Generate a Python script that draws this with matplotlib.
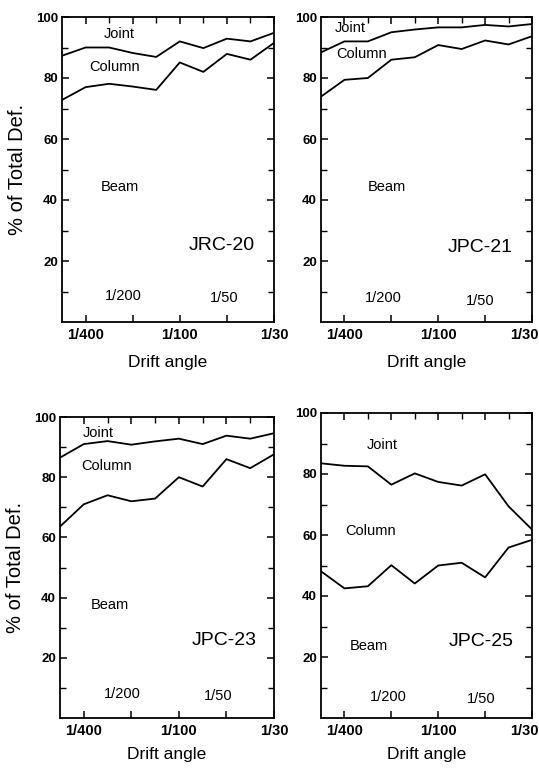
import numpy as np
import matplotlib
matplotlib.use("Agg")
import matplotlib.pyplot as plt
import matplotlib.transforms as mtransforms
from matplotlib.ticker import FixedLocator

plt.rcParams['font.family'] = ['Liberation Sans', 'DejaVu Sans']

# Loading steps (equally spaced drift-angle cycles)
steps = [0, 1, 2, 3, 4, 5, 6, 7, 8, 9]
x_tick_pos = [1, 3, 5, 7, 9]
x_tick_labels = ['1/400', '', '1/100', '', '1/30']
y_ticks = [20, 40, 60, 80, 100]
y_tick_labels = ['20', '40', '60', '80', '100']

specimens = ['JRC-20', 'JPC-21', 'JPC-23', 'JPC-25']

# Upper boundary (beam + column) and lower boundary (beam), % of total deformation
jrc20_upper = [87.3, 90.0, 90.0, 88.2, 86.9, 92.0, 89.8, 92.9, 92.0, 94.8]
jrc20_lower = [72.8, 77.0, 78.1, 77.2, 76.1, 85.1, 82.0, 87.9, 86.0, 91.5]

jpc21_upper = [88.4, 92.0, 92.0, 95.0, 95.9, 96.6, 96.6, 97.4, 96.9, 97.7]
jpc21_lower = [73.9, 79.4, 80.0, 86.0, 86.8, 90.8, 89.5, 92.3, 91.0, 93.7]

jpc23_upper = [86.5, 91.0, 92.0, 90.8, 91.9, 92.8, 91.0, 93.8, 92.8, 94.6]
jpc23_lower = [63.6, 71.0, 74.0, 72.0, 72.9, 80.0, 76.9, 86.0, 83.0, 87.6]

jpc25_upper = [83.5, 82.7, 82.5, 76.5, 80.2, 77.4, 76.2, 79.9, 69.4, 61.8]
jpc25_lower = [48.1, 42.5, 43.2, 50.1, 44.1, 50.0, 50.9, 46.1, 55.9, 58.4]

uppers = [jrc20_upper, jpc21_upper, jpc23_upper, jpc25_upper]
lowers = [jrc20_lower, jpc21_lower, jpc23_lower, jpc25_lower]

# Region label positions (x in steps, y in %)
joint_pos = [(2.45, 94.4), (1.25, 96.3), (1.6, 94.7), (2.6, 89.5)]
column_pos = [(2.25, 83.6), (1.75, 87.8), (1.95, 83.7), (2.1, 61.2)]
beam_pos = [(2.45, 44.4), (2.8, 44.3), (2.1, 37.5), (2.05, 23.7)]
name_pos = [(6.8, 25.2), (6.8, 24.3), (6.9, 25.6), (6.85, 25.0)]
inner_200_pos = [(2.6, 8.5), (2.65, 7.9), (2.6, 8.0), (2.85, 6.9)]
inner_50_pos = [(6.9, 7.8), (6.8, 6.9), (6.65, 7.3), (6.85, 6.2)]

fig = plt.figure(figsize=(5.39, 7.75), dpi=100)
W, H = 539, 775
boxes = [
    (62, 17, 274, 322),
    (321, 17, 532, 322),
    (60, 417, 274, 718),
    (321, 413, 532, 718),
]

for i, (l, t, r, b) in enumerate(boxes):
    ax = fig.add_axes([l / W, 1 - b / H, (r - l) / W, (b - t) / H])
    ax.plot(steps, uppers[i], color='black', lw=1.3)
    ax.plot(steps, lowers[i], color='black', lw=1.3)
    ax.set_xlim(0, 9)
    ax.set_ylim(0, 100)
    ax.set_xticks(x_tick_pos)
    ax.set_xticklabels(x_tick_labels, fontsize=10.5, fontweight='bold')
    ax.xaxis.set_minor_locator(FixedLocator([2, 4, 6, 8]))
    ax.set_yticks(y_ticks)
    ax.set_yticklabels(y_tick_labels, fontsize=9.5, fontweight='bold')
    ax.yaxis.set_minor_locator(FixedLocator([10, 30, 50, 70, 90]))
    ax.tick_params(axis='both', which='major', direction='in', length=5, width=1.1,
                   left=True, right=True, top=True, bottom=True, pad=3)
    ax.tick_params(axis='y', which='minor', direction='in', length=4, width=1.0,
                   left=True, right=True)
    ax.tick_params(axis='x', which='minor', direction='in', length=4, width=1.0,
                   top=True, bottom=False)
    ax.tick_params(axis='x', which='major', pad=4)
    for s in ax.spines.values():
        s.set_linewidth(1.3)
    if i in (1, 3):
        last = ax.get_xticklabels()[-1]
        last.set_horizontalalignment('right')
        last.set_transform(last.get_transform() +
                           mtransforms.ScaledTranslation(7 / 100, 0, fig.dpi_scale_trans))
    ax.set_xlabel('Drift angle', fontsize=12.5, labelpad=10 if i < 2 else 7)
    if i in (0, 2):
        ax.set_ylabel('% of Total Def.', fontsize=14.5, labelpad=6)

    ax.text(*joint_pos[i], 'Joint', fontsize=10.5, ha='center', va='center')
    ax.text(*column_pos[i], 'Column', fontsize=10.5, ha='center', va='center')
    ax.text(*beam_pos[i], 'Beam', fontsize=10.5, ha='center', va='center')
    ax.text(*name_pos[i], specimens[i], fontsize=14, ha='center', va='center')
    ax.text(*inner_200_pos[i], '1/200', fontsize=10.5, ha='center', va='center')
    ax.text(*inner_50_pos[i], '1/50', fontsize=10.5, ha='center', va='center')

fig.savefig('out.png', dpi=100)
